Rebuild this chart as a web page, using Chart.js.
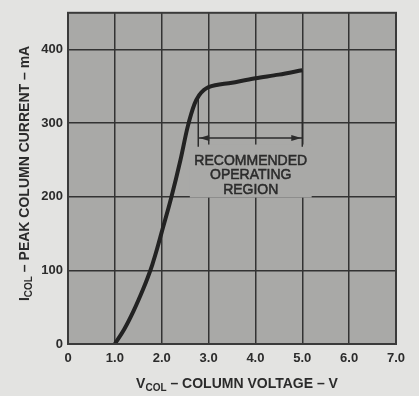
<!DOCTYPE html>
<html>
<head>
<meta charset="utf-8">
<script src="https://cdn.jsdelivr.net/npm/chart.js@4/dist/chart.umd.min.js"></script>
<style>
  html, body { margin: 0; padding: 0; background: #e3e3e1; }
  #box { width: 419px; height: 396px; }
</style>
</head>
<body>
<div id="box"><canvas id="grafico" width="419" height="396"></canvas></div>
<script>
// curva I_COL x V_COL
const voltage = [1.0, 1.2, 1.4, 1.6, 1.7, 1.8, 1.9, 2.0, 2.2, 2.4, 2.55, 2.7, 2.8, 2.9, 3.0, 3.5, 4.0, 4.5, 5.0];
const current = [0, 20, 45, 74, 90, 108, 129, 152, 198, 250, 294, 326, 338, 345, 349, 355, 361, 366, 372];

const xTicks = [0, 1, 2, 3, 4, 5, 6, 7];
const yTicks = [0, 100, 200, 300, 400];

// regiao de operacao recomendada
const regionV = [2.78, 5.0];
const regionTopI = [333, 372];
const regionBottomI = 268;
const arrowI = 280;
const regionText = ['RECOMMENDED', 'OPERATING', 'REGION'];

const ink = '#2b2b2b';
const plotGray = '#a9a9a7';
const fontName = '"Liberation Sans", Arial, sans-serif';

let curvePoints = voltage.map((v, i) => ({ x: v, y: current[i] }));

// texto com subscrito (ex.: V_COL)
function drawSubText(ctx, parts, size) {
  let total = 0;
  parts.forEach(p => {
    ctx.font = 'bold ' + (p.sub ? size - 4 : size) + 'px ' + fontName;
    total += ctx.measureText(p.t).width;
  });
  let x = -total / 2;
  parts.forEach(p => {
    ctx.font = 'bold ' + (p.sub ? size - 4 : size) + 'px ' + fontName;
    ctx.fillText(p.t, x, p.sub ? 4 : 0);
    x += ctx.measureText(p.t).width;
  });
}

const extras = {
  id: 'extras',
  beforeDraw(chart) {
    const { ctx, chartArea: a } = chart;
    ctx.save();
    ctx.fillStyle = '#e3e3e1';
    ctx.fillRect(0, 0, chart.width, chart.height);
    ctx.fillStyle = plotGray;
    ctx.fillRect(a.left, a.top, a.right - a.left, a.bottom - a.top);
    ctx.restore();
  },
  beforeDatasetsDraw(chart) {
    const { ctx } = chart;
    const xs = chart.scales.x, ys = chart.scales.y;
    ctx.save();
    // caixa do texto esconde a grade
    const left = xs.getPixelForValue(2.6) , right = xs.getPixelForValue(5.2);
    const top = ys.getPixelForValue(271), bottom = ys.getPixelForValue(199);
    ctx.fillStyle = plotGray;
    ctx.fillRect(left, top, right - left, bottom - top);
    ctx.fillStyle = ink;
    ctx.strokeStyle = ink;
    ctx.lineWidth = 0.5;
    ctx.font = '14px ' + fontName;
    ctx.textAlign = 'center';
    ctx.textBaseline = 'middle';
    const cx = xs.getPixelForValue(3.9);
    regionText.forEach((t, i) => {
      const ty = ys.getPixelForValue(249) + i * 14.5;
      ctx.fillText(t, cx, ty);
      ctx.strokeText(t, cx, ty);
    });
    ctx.restore();
  },
  afterDatasetsDraw(chart) {
    const { ctx, chartArea: a } = chart;
    const xs = chart.scales.x, ys = chart.scales.y;
    ctx.save();
    // pontas das setas
    const y = ys.getPixelForValue(arrowI);
    const x1 = xs.getPixelForValue(regionV[0]) + 1, x2 = xs.getPixelForValue(regionV[1]) - 1;
    ctx.fillStyle = ink;
    ctx.beginPath();
    ctx.moveTo(x1, y); ctx.lineTo(x1 + 10, y - 3); ctx.lineTo(x1 + 10, y + 3); ctx.closePath();
    ctx.moveTo(x2, y); ctx.lineTo(x2 - 10, y - 3); ctx.lineTo(x2 - 10, y + 3); ctx.closePath();
    ctx.fill();
    // moldura
    ctx.strokeStyle = '#3a3a3a';
    ctx.lineWidth = 2;
    ctx.strokeRect(a.left, a.top, a.right - a.left, a.bottom - a.top);
    // titulos dos eixos
    ctx.fillStyle = ink;
    ctx.textBaseline = 'middle';
    ctx.textAlign = 'left';
    ctx.translate((a.left + a.right) / 2 + 5, 384);
    drawSubText(ctx, [{ t: 'V' }, { t: 'COL', sub: true }, { t: ' – COLUMN VOLTAGE – V' }], 14);
    ctx.setTransform(1, 0, 0, 1, 0, 0);
    ctx.translate(25, (a.top + a.bottom) / 2 - 5);
    ctx.rotate(-Math.PI / 2);
    drawSubText(ctx, [{ t: 'I' }, { t: 'COL', sub: true }, { t: ' – PEAK COLUMN CURRENT – mA' }], 14);
    ctx.restore();
  }
};

new Chart(document.getElementById('grafico'), {
  type: 'scatter',
  data: {
    datasets: [
      {
        data: curvePoints,
        showLine: true,
        borderColor: '#222',
        borderWidth: 4,
        cubicInterpolationMode: 'monotone',
        pointRadius: 0
      },
      {
        data: [{ x: regionV[0], y: regionTopI[0] }, { x: regionV[0], y: regionBottomI }],
        showLine: true, borderColor: ink, borderWidth: 1.5, pointRadius: 0
      },
      {
        data: [{ x: regionV[1], y: regionTopI[1] }, { x: regionV[1], y: regionBottomI }],
        showLine: true, borderColor: ink, borderWidth: 1.5, pointRadius: 0
      },
      {
        data: [{ x: regionV[0], y: arrowI }, { x: regionV[1], y: arrowI }],
        showLine: true, borderColor: ink, borderWidth: 1.5, pointRadius: 0
      }
    ]
  },
  options: {
    responsive: false,
    animation: false,
    events: [],
    layout: { padding: { top: 10, right: 23, bottom: 0, left: 0 } },
    plugins: { legend: { display: false }, tooltip: { enabled: false } },
    scales: {
      x: {
        type: 'linear', min: 0, max: 7,
        afterBuildTicks: s => { s.ticks = xTicks.map(v => ({ value: v })); },
        afterFit: s => { s.height = 52; },
        border: { display: false },
        grid: { color: '#333', lineWidth: 1.5, drawTicks: false },
        ticks: {
          padding: 7, color: ink,
          font: { family: fontName, size: 13, weight: 'bold' },
          callback: v => v === 0 ? '0' : v.toFixed(1)
        }
      },
      y: {
        type: 'linear', min: 0, max: 450,
        afterBuildTicks: s => { s.ticks = yTicks.map(v => ({ value: v })); },
        afterFit: s => { s.width = 68; },
        border: { display: false },
        grid: { color: '#333', lineWidth: 1.5, drawTicks: false },
        ticks: {
          padding: 5, color: ink,
          font: { family: fontName, size: 13, weight: 'bold' }
        }
      }
    }
  },
  plugins: [extras]
});
</script>
</body>
</html>
